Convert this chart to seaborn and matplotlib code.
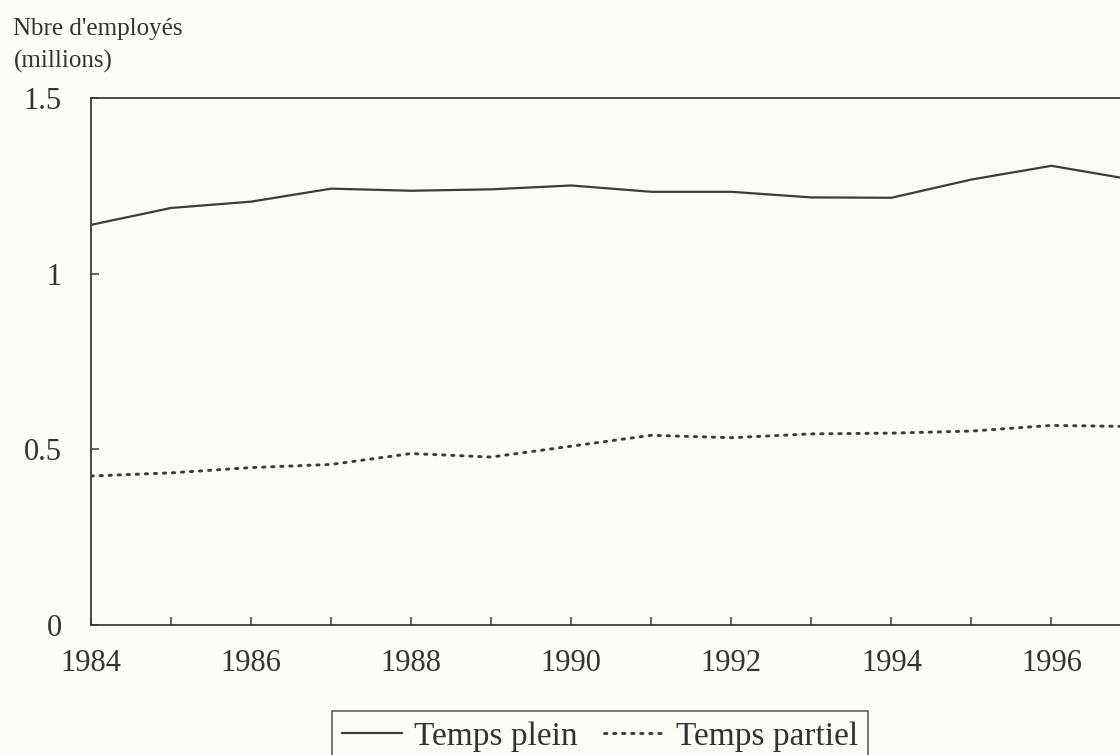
import matplotlib
matplotlib.use("Agg")
import matplotlib.pyplot as plt
import seaborn as sns
import pandas as pd

years = [1984, 1985, 1986, 1987, 1988, 1989, 1990, 1991, 1992, 1993, 1994, 1995, 1996, 1997]
temps_plein = [1.139, 1.187, 1.205, 1.242, 1.236, 1.240, 1.251, 1.233, 1.233, 1.217, 1.216, 1.268, 1.307, 1.268]
temps_partiel = [0.424, 0.433, 0.448, 0.457, 0.488, 0.478, 0.509, 0.540, 0.533, 0.544, 0.546, 0.552, 0.568, 0.565]
y_ticks = [0, 0.5, 1, 1.5]
y_labels = ["0", "0.5", "1", "1.5"]
x_labels = [1984, 1986, 1988, 1990, 1992, 1994, 1996]

sns.set_style("white")
plt.rcParams['font.family'] = ['Liberation Serif', 'DejaVu Serif']

bg = '#fbfcf6'
ink = '#3c3c3c'
txt = '#333333'

df = pd.DataFrame({'annee': years, 'plein': temps_plein, 'partiel': temps_partiel})

fig = plt.figure(figsize=(11.2, 7.55), dpi=100, facecolor=bg)
# the axes run a bit past the right edge, as in the cropped original
ax = fig.add_axes([0.0813, 0.1722, 0.929, 0.698])
ax.set_facecolor(bg)

sns.lineplot(data=df, x='annee', y='plein', ax=ax, color=ink, linewidth=1.6, legend=False)
sns.lineplot(data=df, x='annee', y='partiel', ax=ax, color=ink, linewidth=2.1, legend=False)
ax.lines[1].set_linestyle((0, (0.8, 2.3)))
ax.lines[1].set_dash_capstyle('round')

ax.set_xlim(1984, 1997)
ax.set_ylim(0, 1.5)
ax.set_xticks(years)
ax.set_xticklabels([str(y) if y in x_labels else "" for y in years])
ax.set_yticks(y_ticks)
ax.set_yticklabels(y_labels)

ax.tick_params(axis='both', direction='in', length=6, width=1.1, color=ink,
               labelsize=22, labelcolor=txt, bottom=True, left=True)
ax.tick_params(axis='x', pad=17)
ax.tick_params(axis='y', pad=21)
for lab in ax.get_yticklabels():
    lab.set_verticalalignment('center_baseline')
for s in ax.spines.values():
    s.set_color(ink)
    s.set_linewidth(1.3)

ax.set_xlabel("")
ax.set_ylabel("")
fig.text(0.012, (755 - 35) / 755, "Nbre d'employés", fontsize=18, color=txt, va='baseline')
fig.text(0.012, (755 - 68) / 755, "(millions)", fontsize=18, color=txt, va='baseline')

handles = [ax.lines[0], ax.lines[1]]
leg = fig.legend(handles, ["Temps plein", "Temps partiel"], loc='upper left',
                 bbox_to_anchor=(332 / 1120, (755 - 711) / 755), ncol=2, fontsize=24,
                 frameon=True, fancybox=False, edgecolor=ink, facecolor=bg,
                 handlelength=1.8, handletextpad=0.35, columnspacing=0.8,
                 borderpad=0.3, borderaxespad=0)
leg.get_frame().set_linewidth(1.2)
for t in leg.get_texts():
    t.set_color(txt)

fig.savefig("out.png", dpi=100, facecolor=bg)
